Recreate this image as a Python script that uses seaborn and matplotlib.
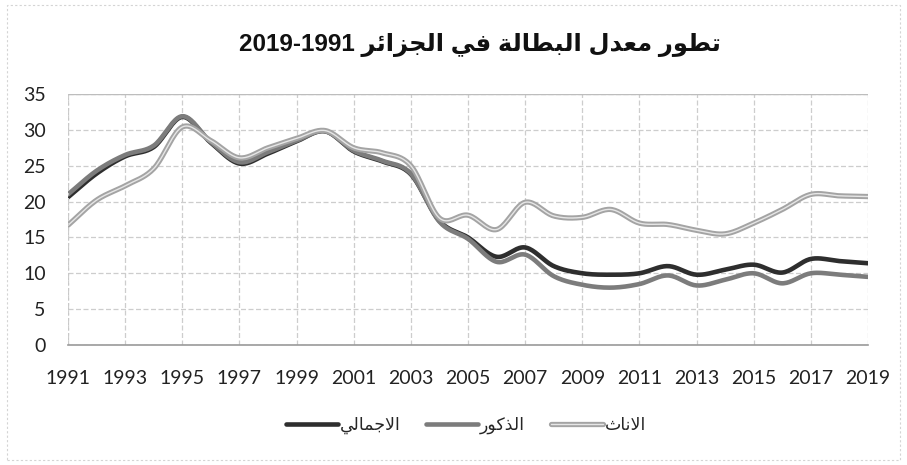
import numpy as np
import pandas as pd
import matplotlib
matplotlib.use("Agg")
import matplotlib.pyplot as plt
import matplotlib.patheffects as pe
from matplotlib.patches import Rectangle
import seaborn as sns

# ---- data -----------------------------------------------------------------
years = list(range(1991, 2020))
total = [20.6, 23.9, 26.3, 27.6, 31.8, 28.2, 25.3, 26.7, 28.4, 29.8,
         27.0, 25.6, 23.8, 17.3, 15.0, 12.3, 13.6, 11.0, 10.0, 9.8,
         10.0, 11.0, 9.8, 10.5, 11.2, 10.1, 12.0, 11.7, 11.4]
male = [21.0, 24.3, 26.5, 27.8, 31.9, 28.3, 25.5, 26.9, 28.5, 29.8,
        27.1, 25.7, 23.9, 17.2, 14.8, 11.6, 12.6, 9.6, 8.4, 8.0,
        8.5, 9.7, 8.3, 9.1, 10.0, 8.6, 10.0, 9.8, 9.5]
female = [16.7, 20.2, 22.2, 24.6, 30.4, 28.5, 26.1, 27.5, 28.8, 29.9,
          27.5, 26.8, 25.0, 17.7, 18.1, 16.1, 19.9, 18.0, 17.8, 18.9,
          17.0, 16.8, 16.0, 15.5, 17.0, 18.9, 21.0, 20.8, 20.7]

series_names = ["الاجمالي", "الذكور", "الاناث"]
title_text = "تطور معدل البطالة في الجزائر"
title_period = "2019-1991"
y_ticks = [0, 5, 10, 15, 20, 25, 30, 35]
x_ticks = list(range(1991, 2020, 2))

# ---- minimal Arabic contextual shaping (matplotlib has no RTL shaping) -----
FORMS = {
    'ا': (0xFE8D, 0xFE8E, None, None),
    'ب': (0xFE8F, 0xFE90, 0xFE91, 0xFE92),
    'ة': (0xFE93, 0xFE94, None, None),
    'ت': (0xFE95, 0xFE96, 0xFE97, 0xFE98),
    'ث': (0xFE99, 0xFE9A, 0xFE9B, 0xFE9C),
    'ج': (0xFE9D, 0xFE9E, 0xFE9F, 0xFEA0),
    'د': (0xFEA9, 0xFEAA, None, None),
    'ذ': (0xFEAB, 0xFEAC, None, None),
    'ر': (0xFEAD, 0xFEAE, None, None),
    'ز': (0xFEAF, 0xFEB0, None, None),
    'ط': (0xFEC1, 0xFEC2, 0xFEC3, 0xFEC4),
    'ع': (0xFEC9, 0xFECA, 0xFECB, 0xFECC),
    'ف': (0xFED1, 0xFED2, 0xFED3, 0xFED4),
    'ك': (0xFED9, 0xFEDA, 0xFEDB, 0xFEDC),
    'ل': (0xFEDD, 0xFEDE, 0xFEDF, 0xFEE0),
    'م': (0xFEE1, 0xFEE2, 0xFEE3, 0xFEE4),
    'ن': (0xFEE5, 0xFEE6, 0xFEE7, 0xFEE8),
    'و': (0xFEED, 0xFEEE, None, None),
    'ي': (0xFEF1, 0xFEF2, 0xFEF3, 0xFEF4),
    'ئ': (0xFE89, 0xFE8A, 0xFE8B, 0xFE8C),
    'لا': (0xFEFB, 0xFEFC, None, None),
}


def shape_rtl(text):
    words = []
    for word in text.split(' '):
        toks, i = [], 0
        while i < len(word):
            if word[i] == 'ل' and i + 1 < len(word) and word[i + 1] == 'ا':
                toks.append('لا')
                i += 2
            else:
                toks.append(word[i])
                i += 1
        glyphs = []
        for k, t in enumerate(toks):
            forms = FORMS.get(t)
            if forms is None:
                glyphs.append(t)
                continue
            prev = FORMS.get(toks[k - 1]) if k > 0 else None
            nxt = FORMS.get(toks[k + 1]) if k + 1 < len(toks) else None
            jp = prev is not None and prev[2] is not None
            jn = nxt is not None and forms[2] is not None
            if jp and jn:
                cp = forms[3]
            elif jp:
                cp = forms[1]
            elif jn:
                cp = forms[2]
            else:
                cp = forms[0]
            glyphs.append(chr(cp))
        words.append(''.join(reversed(glyphs)))
    return ' '.join(reversed(words))


# ---- smoothed curves (Catmull-Rom, like spreadsheet "smoothed line") -------
def smooth(xs, ys, n=20):
    x = np.asarray(xs, float)
    y = np.asarray(ys, float)
    px = np.concatenate([[2 * x[0] - x[1]], x, [2 * x[-1] - x[-2]]])
    py = np.concatenate([[2 * y[0] - y[1]], y, [2 * y[-1] - y[-2]]])
    t = np.linspace(0, 1, n, endpoint=False)[:, None]
    outx, outy = [], []
    for i in range(1, len(px) - 2):
        for p, out in ((px, outx), (py, outy)):
            p0, p1, p2, p3 = p[i - 1], p[i], p[i + 1], p[i + 2]
            seg = 0.5 * ((2 * p1) + (-p0 + p2) * t +
                         (2 * p0 - 5 * p1 + 4 * p2 - p3) * t ** 2 +
                         (-p0 + 3 * p1 - 3 * p2 + p3) * t ** 3)
            out.extend(seg.ravel())
    outx.append(x[-1])
    outy.append(y[-1])
    return np.array(outx), np.array(outy)


frames = []
for name, vals in zip(series_names, [total, male, female]):
    sx, sy = smooth(years, vals)
    frames.append(pd.DataFrame({"year": sx, "rate": sy, "series": shape_rtl(name)}))
df = pd.concat(frames, ignore_index=True)

# ---- figure ----------------------------------------------------------------
sns.set_theme(style="white")
plt.rcParams['font.family'] = ['Lato', 'DejaVu Sans']

fig = plt.figure(figsize=(9.07, 4.65), dpi=100)
fig.subplots_adjust(left=68 / 907, right=868 / 907, top=1 - 94 / 465, bottom=1 - 345 / 465)
ax = fig.add_subplot(111)

palette = {shape_rtl(series_names[0]): "#2e2e2e",
           shape_rtl(series_names[1]): "#7c7c7c",
           shape_rtl(series_names[2]): "#a9a9a9"}
sns.lineplot(data=df, x="year", y="rate", hue="series", palette=palette,
             estimator=None, sort=False, linewidth=3.3, ax=ax, legend=False)

# female series drawn as a double line
ax.lines[2].set_linewidth(1.0)
ax.lines[2].set_color("#e6e6e6")
ax.lines[2].set_path_effects([pe.Stroke(linewidth=3.8, foreground="#a4a4a4"), pe.Normal()])

ax.set_xlim(1991, 2019)
ax.set_ylim(0, 35)
ax.set_xticks(x_ticks)
ax.set_xticklabels([str(v) for v in x_ticks])
ax.set_yticks(y_ticks)
ax.set_yticklabels([str(v) for v in y_ticks])
ax.tick_params(axis='both', length=0, labelsize=14, colors="#222222")
ax.tick_params(axis='y', pad=16)
ax.tick_params(axis='x', pad=18)
ax.set_xlabel("")
ax.set_ylabel("")

ax.grid(True, color="#cdcdcd", linestyle=(0, (4, 2)), linewidth=0.9)
for side in ["top", "right", "left"]:
    ax.spines[side].set_visible(False)
ax.spines["bottom"].set_color("#9a9a9a")
ax.spines["bottom"].set_linewidth(1.2)
ax.axhline(35, color="#bdbdbd", linewidth=1.0)
ax.axvline(1991, color="#c8c8c8", linestyle=(0, (2, 2)), linewidth=0.9)

# faint chart-area border
fig.patches.append(Rectangle((7 / 907, 1 - 460 / 465), 893 / 907, 455 / 465,
                             transform=fig.transFigure, fill=False,
                             edgecolor="#d4d4d4", linewidth=0.8, linestyle=(0, (2, 2))))

# title
fig.text(0.529, 1 - 45 / 465, title_period + " " + shape_rtl(title_text),
         ha="center", va="center", fontsize=17.5, fontweight="bold",
         family=["Liberation Sans", "DejaVu Sans"], color="#111111")

# legend
handles = ax.lines[:3]
labels = [shape_rtl(n) for n in series_names]
leg = fig.legend(handles, labels, loc="center", bbox_to_anchor=(466 / 907, 1 - 425 / 465),
                 ncol=3, frameon=False, handlelength=3.0, columnspacing=1.5,
                 handletextpad=0.1, prop={"family": ["DejaVu Sans"], "size": 12.5})

fig.savefig("out.png", dpi=100, facecolor="white")
